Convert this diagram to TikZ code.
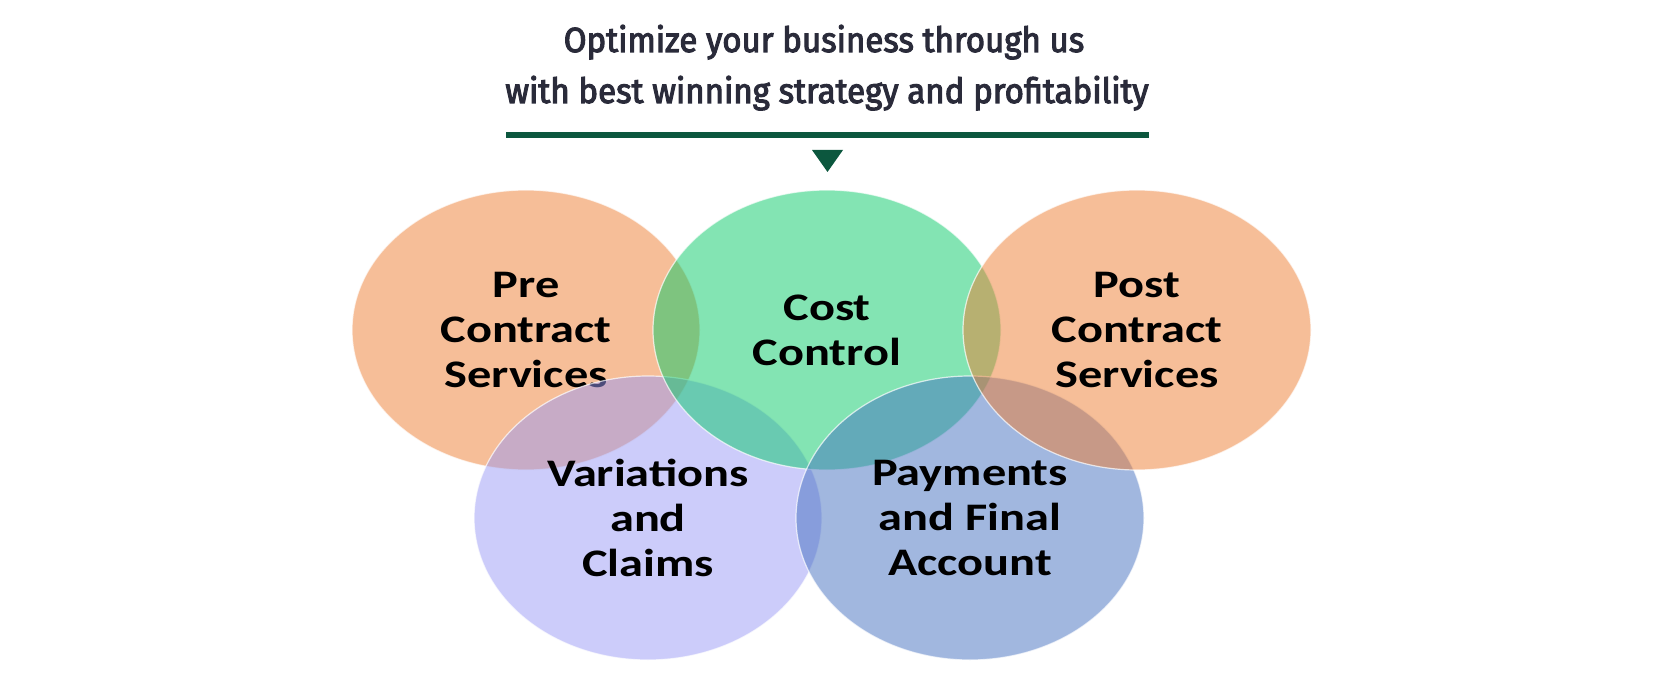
\documentclass[tikz,border=0pt]{standalone}
\usepackage{fontspec}
\usetikzlibrary{shapes.geometric, positioning}
\newfontfamily\titlefont{Fira Sans}[FakeBold=3, FakeStretch=0.95]
\newfontfamily\vennfont{Carlito}[FakeStretch=1.24]
\definecolor{titleink}{RGB}{42,43,58}
\definecolor{rulegreen}{RGB}{12,87,62}
\definecolor{preorange}{RGB}{237,125,49}
\definecolor{costgreen}{RGB}{8,202,104}
\definecolor{varlilac}{RGB}{153,153,245}
\definecolor{payblue}{RGB}{68,112,192}
\begin{document}
\begin{tikzpicture}[x=0.5pt,y=-0.5pt,
  venn/.style={ellipse, minimum width=174pt, minimum height=140pt, inner sep=0pt,
    draw=white, line width=0.6pt, draw opacity=0.7, fill opacity=0.5, text opacity=1,
    align=center, text=black, font=\vennfont\bfseries\fontsize{19.5}{22.5}\selectfont},
  headline/.style={anchor=base, inner sep=0pt, text=titleink,
    font=\titlefont\fontsize{17.4}{20}\selectfont}]
\useasboundingbox (0,0) rectangle (1674,684);
\coordinate (ruleL) at (506,135);
\coordinate (ruleR) at (1149,135);
\coordinate (tipL) at (812,150);
\coordinate (tipR) at (843,150);
\coordinate (tipB) at (827.5,172);

% heading
\node[headline] (line1) at (824,52) {Optimize your business through us};
\node[headline] (line2) at (827,103) {with best winning strategy and profitability};
\draw[rulegreen, line width=2.65pt] (ruleL) -- (ruleR);
\fill[rulegreen] (tipL) -- (tipR) -- (tipB) -- cycle;

% overlapping services, back to front
\node[venn, fill=preorange] (pre) at (526,330) {Pre\\Contract\\Services};
\node[venn, fill=varlilac, minimum height=142pt] (var) at (648,518) {Variations\\and\\Claims};
\node[venn, fill=costgreen] (cost) at (827,330) {Cost\\Control};
\node[venn, fill=payblue, minimum height=142pt] (pay) at (970,518) {Payments\\and Final\\Account};
\node[venn, fill=preorange] (post) at (1137,330) {Post\\Contract\\Services};
\end{tikzpicture}
\end{document}
